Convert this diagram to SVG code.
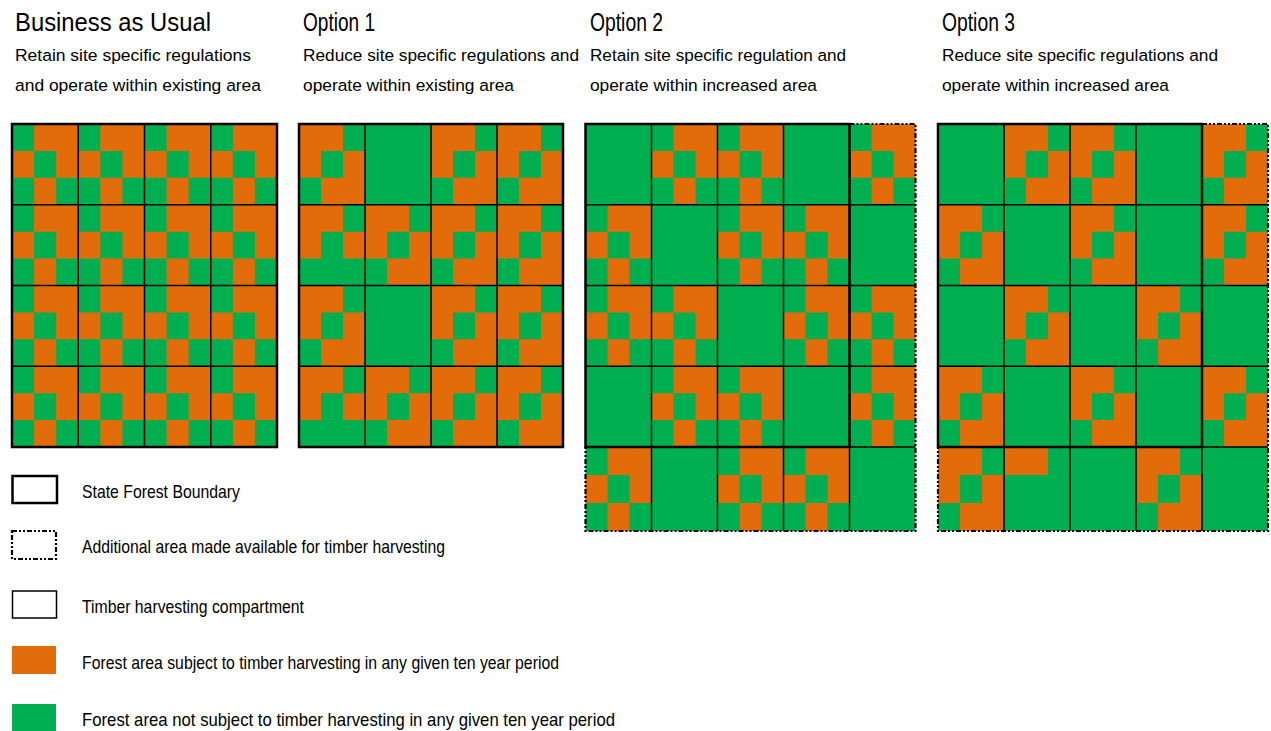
<svg xmlns="http://www.w3.org/2000/svg" xmlns:xlink="http://www.w3.org/1999/xlink" width="1271" height="731" viewBox="0 0 1271 731">
<style>
  text { font-family: "Liberation Sans", Arial, sans-serif; fill: #000; }
  .title { font-size: 25px; }
  .sub { font-size: 17.4px; }
  .leg { font-size: 19px; }
  .green { fill: #00B050; }
  .orange { fill: #E36C0A; }
  .comp { fill: none; stroke: #000; stroke-width: 1.5; }
  .bound { fill: none; stroke: #000; stroke-width: 2.5; }
  .extra { fill: none; stroke: #000; stroke-width: 2.2; stroke-dasharray: 5 2 2 2 2 2; }
</style>
<defs>
  <symbol id="A" viewBox="0 0 3 3" preserveAspectRatio="none"><path class="orange" d="M1 0H3V2H2V1H1ZM0 1H1V2H0ZM1 2H2V3H1Z"/></symbol>
  <symbol id="B" viewBox="0 0 3 3" preserveAspectRatio="none"><path class="orange" d="M0 0H2V1H1V2H0ZM2 1H3V3H1V2H2Z"/></symbol>
  <symbol id="C" viewBox="0 0 3 3" preserveAspectRatio="none"><path class="orange" d="M0 0H2V1H1V2H0ZM2 1H3V2H2Z"/></symbol>
  <symbol id="D" viewBox="0 0 3 3" preserveAspectRatio="none"><path class="orange" d="M0 0H2V1H0Z"/></symbol>
</defs>
<rect width="1271" height="731" fill="#fff"/>

<g id="header-bau">
  <text class="title" x="15" y="31" textLength="196" lengthAdjust="spacingAndGlyphs">Business as Usual</text>
  <text class="sub" x="15" y="61" textLength="236" lengthAdjust="spacingAndGlyphs">Retain site specific regulations</text>
  <text class="sub" x="15" y="91" textLength="246" lengthAdjust="spacingAndGlyphs">and operate within existing area</text>
</g>
<g id="header-option1">
  <text class="title" x="303" y="31" textLength="72" lengthAdjust="spacingAndGlyphs">Option 1</text>
  <text class="sub" x="303" y="61" textLength="276" lengthAdjust="spacingAndGlyphs">Reduce site specific regulations and</text>
  <text class="sub" x="303" y="91" textLength="211" lengthAdjust="spacingAndGlyphs">operate within existing area</text>
</g>
<g id="header-option2">
  <text class="title" x="590" y="31" textLength="73" lengthAdjust="spacingAndGlyphs">Option 2</text>
  <text class="sub" x="590" y="61" textLength="256" lengthAdjust="spacingAndGlyphs">Retain site specific regulation and</text>
  <text class="sub" x="590" y="91" textLength="227" lengthAdjust="spacingAndGlyphs">operate within increased area</text>
</g>
<g id="header-option3">
  <text class="title" x="942" y="31" textLength="73" lengthAdjust="spacingAndGlyphs">Option 3</text>
  <text class="sub" x="942" y="61" textLength="276" lengthAdjust="spacingAndGlyphs">Reduce site specific regulations and</text>
  <text class="sub" x="942" y="91" textLength="227" lengthAdjust="spacingAndGlyphs">operate within increased area</text>
</g>

<g id="grid-bau">
  <rect class="green" x="12" y="124" width="265" height="323"/>
  <use href="#A" x="12" y="124" width="66.25" height="80.75"/>
  <use href="#A" x="78.25" y="124" width="66.25" height="80.75"/>
  <use href="#A" x="144.5" y="124" width="66.25" height="80.75"/>
  <use href="#A" x="210.75" y="124" width="66.25" height="80.75"/>
  <use href="#A" x="12" y="204.75" width="66.25" height="80.75"/>
  <use href="#A" x="78.25" y="204.75" width="66.25" height="80.75"/>
  <use href="#A" x="144.5" y="204.75" width="66.25" height="80.75"/>
  <use href="#A" x="210.75" y="204.75" width="66.25" height="80.75"/>
  <use href="#A" x="12" y="285.5" width="66.25" height="80.75"/>
  <use href="#A" x="78.25" y="285.5" width="66.25" height="80.75"/>
  <use href="#A" x="144.5" y="285.5" width="66.25" height="80.75"/>
  <use href="#A" x="210.75" y="285.5" width="66.25" height="80.75"/>
  <use href="#A" x="12" y="366.25" width="66.25" height="80.75"/>
  <use href="#A" x="78.25" y="366.25" width="66.25" height="80.75"/>
  <use href="#A" x="144.5" y="366.25" width="66.25" height="80.75"/>
  <use href="#A" x="210.75" y="366.25" width="66.25" height="80.75"/>
  <path class="comp" d="M78.25 124V447M144.5 124V447M210.75 124V447M12 204.75H277M12 285.5H277M12 366.25H277"/>
  <rect class="bound" x="12" y="124" width="265" height="323"/>
</g>

<g id="grid-option1">
  <rect class="green" x="299" y="124" width="264" height="323"/>
  <use href="#B" x="299" y="124" width="66" height="80.75"/>
  <use href="#B" x="431" y="124" width="66" height="80.75"/>
  <use href="#B" x="497" y="124" width="66" height="80.75"/>
  <use href="#C" x="299" y="204.75" width="66" height="80.75"/>
  <use href="#B" x="365" y="204.75" width="66" height="80.75"/>
  <use href="#B" x="431" y="204.75" width="66" height="80.75"/>
  <use href="#B" x="497" y="204.75" width="66" height="80.75"/>
  <use href="#B" x="299" y="285.5" width="66" height="80.75"/>
  <use href="#B" x="431" y="285.5" width="66" height="80.75"/>
  <use href="#B" x="497" y="285.5" width="66" height="80.75"/>
  <use href="#C" x="299" y="366.25" width="66" height="80.75"/>
  <use href="#B" x="365" y="366.25" width="66" height="80.75"/>
  <use href="#B" x="431" y="366.25" width="66" height="80.75"/>
  <use href="#B" x="497" y="366.25" width="66" height="80.75"/>
  <path class="comp" d="M365 124V447M431 124V447M497 124V447M299 204.75H563M299 285.5H563M299 366.25H563"/>
  <rect class="bound" x="299" y="124" width="264" height="323"/>
</g>

<g id="grid-option2">
  <rect class="green" x="585.5" y="124" width="330" height="407"/>
  <use href="#A" x="651.5" y="124" width="66" height="80.75"/>
  <use href="#A" x="717.5" y="124" width="66" height="80.75"/>
  <use href="#A" x="849.5" y="124" width="66" height="80.75"/>
  <use href="#A" x="585.5" y="204.75" width="66" height="80.75"/>
  <use href="#A" x="717.5" y="204.75" width="66" height="80.75"/>
  <use href="#A" x="783.5" y="204.75" width="66" height="80.75"/>
  <use href="#A" x="585.5" y="285.5" width="66" height="80.75"/>
  <use href="#A" x="651.5" y="285.5" width="66" height="80.75"/>
  <use href="#A" x="783.5" y="285.5" width="66" height="80.75"/>
  <use href="#A" x="849.5" y="285.5" width="66" height="80.75"/>
  <use href="#A" x="651.5" y="366.25" width="66" height="80.75"/>
  <use href="#A" x="717.5" y="366.25" width="66" height="80.75"/>
  <use href="#A" x="849.5" y="366.25" width="66" height="80.75"/>
  <use href="#A" x="585.5" y="447" width="66" height="84"/>
  <use href="#A" x="717.5" y="447" width="66" height="84"/>
  <use href="#A" x="783.5" y="447" width="66" height="84"/>
  <path class="comp" d="M651.5 124V531M717.5 124V531M783.5 124V531M849.5 124V531M585.5 204.75H915.5M585.5 285.5H915.5M585.5 366.25H915.5M585.5 447H915.5"/>
  <rect class="bound" x="585.5" y="124" width="264" height="323"/>
  <path class="extra" d="M849.5 124H915.5V531H585.5V447"/>
</g>

<g id="grid-option3">
  <rect class="green" x="938" y="124" width="330" height="407"/>
  <use href="#B" x="1004" y="124" width="66" height="80.75"/>
  <use href="#B" x="1070" y="124" width="66" height="80.75"/>
  <use href="#B" x="1202" y="124" width="66" height="80.75"/>
  <use href="#B" x="938" y="204.75" width="66" height="80.75"/>
  <use href="#B" x="1070" y="204.75" width="66" height="80.75"/>
  <use href="#B" x="1202" y="204.75" width="66" height="80.75"/>
  <use href="#B" x="1004" y="285.5" width="66" height="80.75"/>
  <use href="#B" x="1136" y="285.5" width="66" height="80.75"/>
  <use href="#B" x="938" y="366.25" width="66" height="80.75"/>
  <use href="#B" x="1070" y="366.25" width="66" height="80.75"/>
  <use href="#B" x="1202" y="366.25" width="66" height="80.75"/>
  <use href="#B" x="938" y="447" width="66" height="84"/>
  <use href="#D" x="1004" y="447" width="66" height="84"/>
  <use href="#B" x="1136" y="447" width="66" height="84"/>
  <path class="comp" d="M1004 124V531M1070 124V531M1136 124V531M1202 124V531M938 204.75H1268M938 285.5H1268M938 366.25H1268M938 447H1268"/>
  <rect class="bound" x="938" y="124" width="264" height="323"/>
  <path class="extra" d="M1202 124H1268V531H938V447"/>
</g>

<g id="legend-boundary">
  <rect class="bound" x="12.5" y="476" width="44.5" height="27"/>
  <text class="leg" x="82" y="498" textLength="158" lengthAdjust="spacingAndGlyphs">State Forest Boundary</text>
</g>
<g id="legend-additional">
  <rect class="extra" x="12" y="531" width="44" height="28"/>
  <text class="leg" x="82" y="553" textLength="363" lengthAdjust="spacingAndGlyphs">Additional area made available for timber harvesting</text>
</g>
<g id="legend-compartment">
  <rect class="comp" x="12.5" y="591" width="44" height="27"/>
  <text class="leg" x="82" y="613" textLength="222" lengthAdjust="spacingAndGlyphs">Timber harvesting compartment</text>
</g>
<g id="legend-harvest">
  <rect class="orange" x="12" y="646" width="44" height="28"/>
  <text class="leg" x="82" y="669" textLength="477" lengthAdjust="spacingAndGlyphs">Forest area subject to timber harvesting in any given ten year period</text>
</g>
<g id="legend-noharvest">
  <rect class="green" x="12" y="704" width="44" height="27"/>
  <text class="leg" x="82" y="726" textLength="533" lengthAdjust="spacingAndGlyphs">Forest area not subject to timber harvesting in any given ten year period</text>
</g>
</svg>
